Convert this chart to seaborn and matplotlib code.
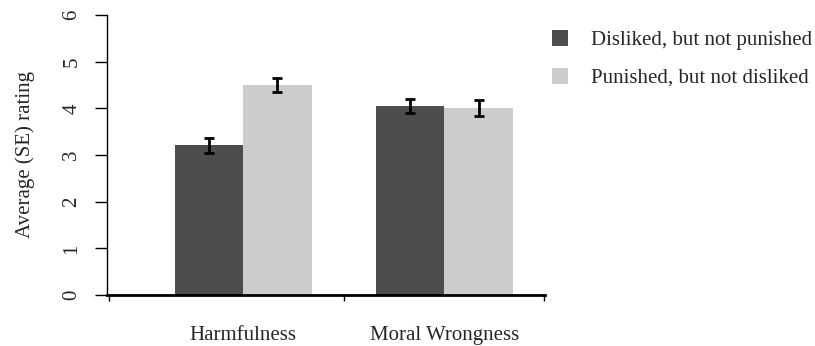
import matplotlib
matplotlib.use("Agg")
import matplotlib.pyplot as plt
import seaborn as sns
import pandas as pd
import numpy as np

categories = ["Harmfulness", "Moral Wrongness"]
conditions = ["Disliked, but not punished", "Punished, but not disliked"]
disliked_mean = [3.21, 4.05]
punished_mean = [4.50, 4.01]
disliked_se = [0.16, 0.16]
punished_se = [0.16, 0.17]
y_ticks = [0, 1, 2, 3, 4, 5, 6]

sns.set_theme(style="white")
plt.rcParams["font.family"] = ["Liberation Serif", "DejaVu Serif"]

df = pd.DataFrame({
    "measure": categories * 2,
    "condition": [conditions[0]] * 2 + [conditions[1]] * 2,
    "rating": disliked_mean + punished_mean,
    "se": disliked_se + punished_se,
})

fig = plt.figure(figsize=(8.15, 3.46), dpi=100)
ax = fig.add_axes([107 / 815, 51 / 346, (545 - 107) / 815, (295 - 15) / 346])

palette = {conditions[0]: "#4d4d4d", conditions[1]: "#cccccc"}
sns.barplot(data=df, x="measure", y="rating", hue="condition",
            hue_order=conditions, order=categories, palette=palette,
            width=0.678, saturation=1, errorbar=None, linewidth=0, ax=ax)

# error bars centred on each drawn bar
bars = [p for p in ax.patches if p.get_height() > 0]
for p in bars:
    xc = p.get_x() + p.get_width() / 2
    h = p.get_height()
    row = df[np.isclose(df["rating"], h)].iloc[0]
    ax.errorbar(xc, h, yerr=row["se"], color="black", capsize=3.5,
                elinewidth=2, capthick=2, fmt="none")

ax.set_xlim(-0.678, 1.5)
ax.set_ylim(0, 6)
ax.set_yticks(y_ticks)
ax.set_yticklabels([str(t) for t in y_ticks], rotation=90, va="center")
ax.tick_params(axis="y", length=8.5, width=1, color="black", pad=10,
               labelsize=15, left=True)
ax.set_ylabel("Average (SE) rating", fontsize=15, labelpad=20)

# group boundaries as major ticks, category names as minor ticks
ax.set_xticks([-0.668, 0.4988, 1.496])
ax.set_xticklabels(["", "", ""])
ax.set_xticks([0, 1], minor=True)
ax.set_xticklabels(categories, minor=True)
ax.tick_params(axis="x", which="major", length=4, width=1, color="black",
               bottom=True, direction="out")
ax.tick_params(axis="x", which="minor", length=0, pad=22, labelsize=15)
ax.set_xlabel("")

for s in ["top", "right"]:
    ax.spines[s].set_visible(False)
ax.spines["left"].set_color("black")
ax.spines["left"].set_linewidth(1)
ax.spines["bottom"].set_color("black")
ax.spines["bottom"].set_linewidth(2)

handles, labels = ax.get_legend_handles_labels()
ax.legend_.remove()
fig.legend(handles, labels, loc="upper left", bbox_to_anchor=(533 / 815, 1 - 11 / 346),
           frameon=False, fontsize=15, handlelength=0.8, handleheight=0.8,
           handletextpad=1.1, labelspacing=0.85)

fig.savefig("out.png", dpi=100)
